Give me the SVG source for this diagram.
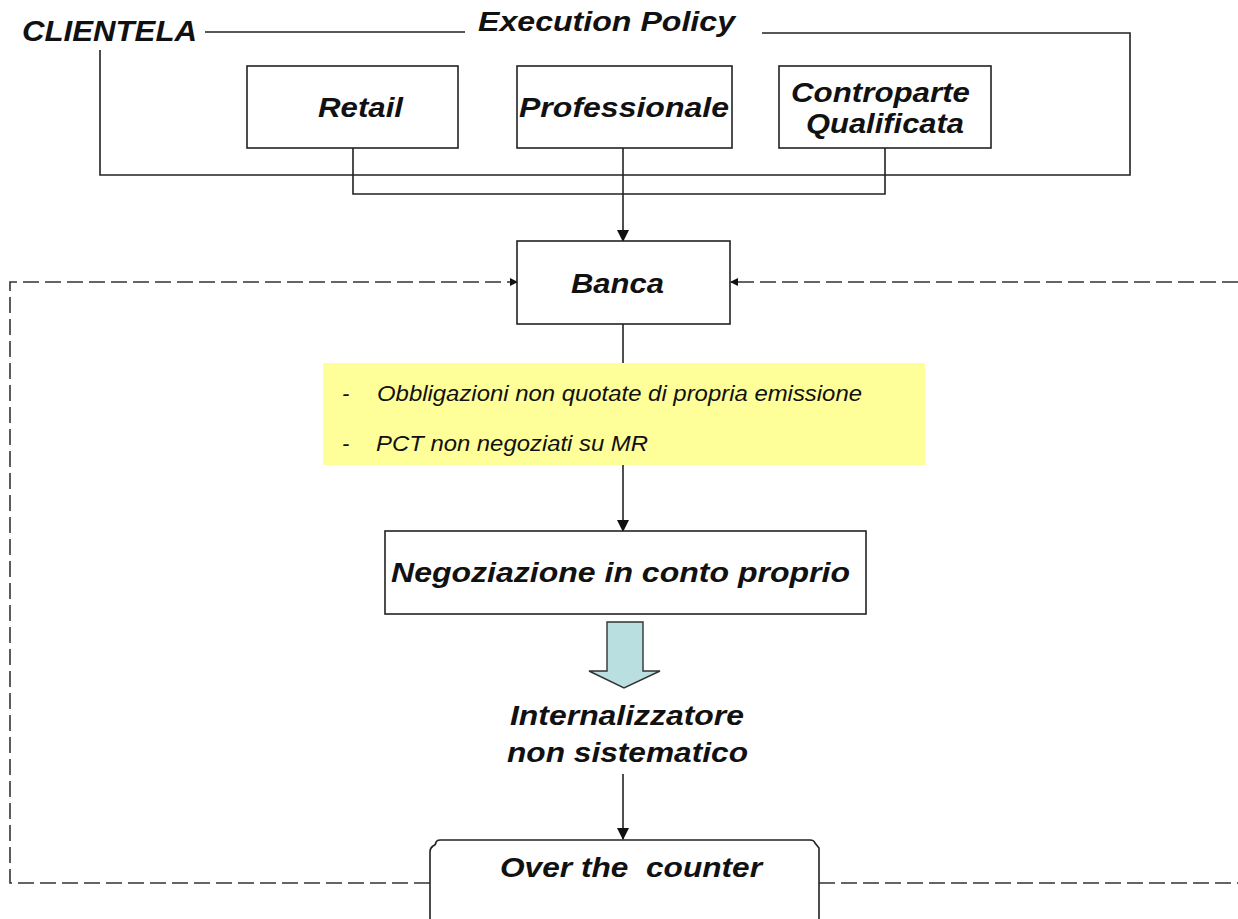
<svg xmlns="http://www.w3.org/2000/svg" width="1238" height="919" viewBox="0 0 1238 919">
<style>
.t{font-family:"Liberation Sans",Arial,sans-serif;font-style:italic;font-weight:bold;fill:#111}
.n{font-family:"Liberation Sans",Arial,sans-serif;font-style:italic;font-weight:normal;fill:#111;font-size:22px}
.box{fill:#fff;stroke:#222;stroke-width:1.6}
.ln{fill:none;stroke:#222;stroke-width:1.6}
.ds{fill:none;stroke:#333;stroke-width:1.6;stroke-dasharray:16 6}
</style>
<defs>
<marker id="ah" markerUnits="userSpaceOnUse" markerWidth="12" markerHeight="12" refX="11" refY="6" orient="auto">
<path d="M0,0 L12,6 L0,12 Z" fill="#111"/>
</marker>
<marker id="sh" markerUnits="userSpaceOnUse" markerWidth="8" markerHeight="8" refX="7" refY="4" orient="auto">
<path d="M0,0 L8,4 L0,8 Z" fill="#111"/>
</marker>
</defs>
<rect width="1238" height="919" fill="#fff"/>

<g id="connectors">
<path class="ln" d="M205,32 H465"/>
<path class="ln" d="M762,33 H1130 V175 H100 V50"/>
<path class="ln" d="M353,148 V194 H885 V148"/>
<path class="ln" d="M623,148 V241" marker-end="url(#ah)"/>
<path class="ln" d="M623,324 V363"/>
<path class="ln" d="M623,465 V531" marker-end="url(#ah)"/>
<path class="ln" d="M623,774 V839" marker-end="url(#ah)"/>
<path class="ds" d="M430,883 H10 V282 H517" marker-end="url(#sh)"/>
<path class="ds" d="M1238,282 H731" marker-end="url(#sh)"/>
<path class="ds" d="M819,883 H1238"/>
</g>

<g id="clientela">
<text class="t" x="22" y="41" font-size="29" textLength="175" lengthAdjust="spacingAndGlyphs">CLIENTELA</text>
</g>
<g id="execution-policy">
<text class="t" x="478" y="31" font-size="27" textLength="257" lengthAdjust="spacingAndGlyphs">Execution Policy</text>
</g>

<g id="retail">
<rect class="box" x="247" y="66" width="211" height="82"/>
<text class="t" x="318" y="117" font-size="28" textLength="85" lengthAdjust="spacingAndGlyphs">Retail</text>
</g>
<g id="professionale">
<rect class="box" x="517" y="66" width="215" height="82"/>
<text class="t" x="519" y="117" font-size="28" textLength="210" lengthAdjust="spacingAndGlyphs">Professionale</text>
</g>
<g id="controparte">
<rect class="box" x="779" y="66" width="212" height="82"/>
<text class="t" x="791" y="102" font-size="28" textLength="179" lengthAdjust="spacingAndGlyphs">Controparte</text>
<text class="t" x="806" y="133" font-size="28" textLength="158" lengthAdjust="spacingAndGlyphs">Qualificata</text>
</g>

<g id="banca">
<rect class="box" x="517" y="241" width="213" height="83"/>
<text class="t" x="571" y="293" font-size="28" textLength="93" lengthAdjust="spacingAndGlyphs">Banca</text>
</g>

<g id="strumenti">
<rect x="323" y="363" width="602" height="102" fill="#FFFF99"/>
<text class="n" x="342" y="401">-</text>
<text class="n" x="377" y="401" textLength="485" lengthAdjust="spacingAndGlyphs">Obbligazioni non quotate di propria emissione</text>
<text class="n" x="342" y="451">-</text>
<text class="n" x="376" y="451" textLength="272" lengthAdjust="spacingAndGlyphs">PCT non negoziati su MR</text>
</g>

<g id="negoziazione">
<rect class="box" x="385" y="531" width="481" height="83"/>
<text class="t" x="391" y="582" font-size="28" textLength="459" lengthAdjust="spacingAndGlyphs">Negoziazione in conto proprio</text>
</g>

<g id="block-arrow">
<path d="M607,622 H643 V671 H660 L624,688 L589,671 H607 Z" fill="#B9DFE1" stroke="#333" stroke-width="1.4"/>
</g>

<g id="internalizzatore">
<text class="t" x="510" y="725" font-size="28" textLength="234" lengthAdjust="spacingAndGlyphs">Internalizzatore</text>
<text class="t" x="507" y="762" font-size="28" textLength="241" lengthAdjust="spacingAndGlyphs">non sistematico</text>
</g>

<g id="otc">
<path d="M430,920 V852 Q430,848 433,846 Q436,845 436,842 Q437,840 440,840 H810 Q814,840 815,843 L819,848 V920" fill="#fff" stroke="#222" stroke-width="1.6"/>
<text class="t" x="500" y="877" font-size="28" textLength="262" lengthAdjust="spacingAndGlyphs" xml:space="preserve">Over the  counter</text>
</g>
</svg>
